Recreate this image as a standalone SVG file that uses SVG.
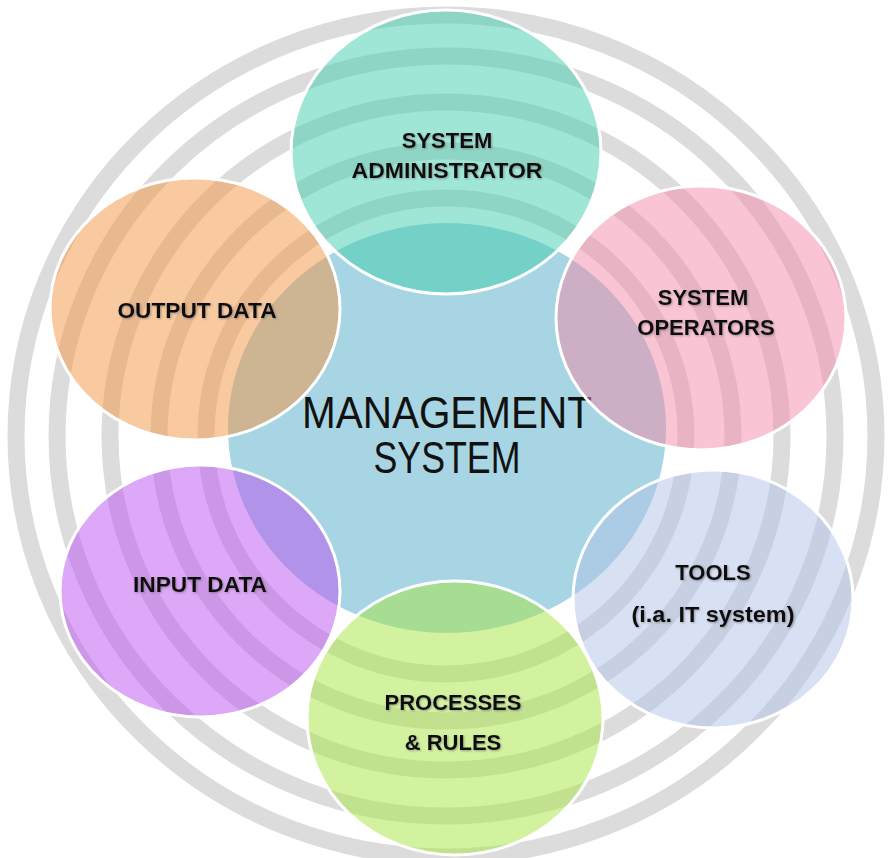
<svg xmlns="http://www.w3.org/2000/svg" width="892" height="858" viewBox="0 0 892 858">
<style>
.ring{fill:none;stroke:#dcdcdc;stroke-width:17}
.bubble{stroke:#ffffff;stroke-width:3;fill-opacity:0.5}
.lbl{font-family:"Liberation Sans",Arial,sans-serif;font-weight:bold;font-size:22px;fill:#111111;text-anchor:middle}
.title{font-family:"Liberation Sans",Arial,sans-serif;font-size:44px;fill:#111111;text-anchor:middle}
</style>
<defs>
<filter id="sh" x="-10%" y="-30%" width="120%" height="160%">
<feDropShadow dx="1" dy="1" stdDeviation="0.8" flood-color="#555" flood-opacity="0.5"/>
</filter>
<clipPath id="inCircles">
<ellipse cx="446" cy="152" rx="155" ry="142"/>
<ellipse cx="195" cy="309" rx="145" ry="131"/>
<ellipse cx="701" cy="318" rx="145" ry="132"/>
<ellipse cx="200" cy="591" rx="140" ry="126"/>
<ellipse cx="713" cy="599" rx="140" ry="129"/>
<ellipse cx="455" cy="718" rx="148" ry="137"/>
</clipPath>
</defs>
<rect width="892" height="858" fill="#ffffff"/>
<g id="rings">
<ellipse class="ring" cx="446" cy="436" rx="430" ry="421"/>
<ellipse class="ring" cx="446" cy="436" rx="389" ry="380"/>
<ellipse class="ring" cx="446" cy="436" rx="336" ry="334" stroke-width="19"/>
<g clip-path="url(#inCircles)">
<ellipse class="ring" cx="446" cy="436" rx="287" ry="285" stroke-width="15"/>
<ellipse class="ring" cx="446" cy="436" rx="240" ry="238" stroke-width="19"/>
</g>
</g>
<g id="connectors"/>
<g id="node-center">
<ellipse cx="447" cy="428" rx="219" ry="205" fill="#a7d5e3"/>
<text class="title" x="447" y="428" textLength="290" lengthAdjust="spacingAndGlyphs">MANAGEMENT</text>
<text class="title" x="447" y="473" textLength="147" lengthAdjust="spacingAndGlyphs">SYSTEM</text>
</g>
<g id="node-admin">
<ellipse class="bubble" cx="446" cy="152" rx="155" ry="142" fill="#41cdad"/>
<g filter="url(#sh)">
<text class="lbl" x="447" y="148">SYSTEM</text>
<text class="lbl" x="447" y="178" textLength="191" lengthAdjust="spacingAndGlyphs">ADMINISTRATOR</text>
</g>
</g>
<g id="node-output">
<ellipse class="bubble" cx="195" cy="309" rx="145" ry="131" fill="#f39341"/>
<text class="lbl" x="197" y="318" textLength="159" lengthAdjust="spacingAndGlyphs" filter="url(#sh)">OUTPUT DATA</text>
</g>
<g id="node-operators">
<ellipse class="bubble" cx="701" cy="318" rx="145" ry="132" fill="#f389a7"/>
<g filter="url(#sh)">
<text class="lbl" x="703" y="305">SYSTEM</text>
<text class="lbl" x="706" y="335">OPERATORS</text>
</g>
</g>
<g id="node-input">
<ellipse class="bubble" cx="200" cy="591" rx="140" ry="126" fill="#bb51ef"/>
<text class="lbl" x="200" y="592" textLength="134" lengthAdjust="spacingAndGlyphs" filter="url(#sh)">INPUT DATA</text>
</g>
<g id="node-tools">
<ellipse class="bubble" cx="713" cy="599" rx="140" ry="129" fill="#b1c1e7"/>
<g filter="url(#sh)">
<text class="lbl" x="713" y="580">TOOLS</text>
<text class="lbl" x="713" y="622" textLength="163" lengthAdjust="spacingAndGlyphs">(i.a. IT system)</text>
</g>
</g>
<g id="node-processes">
<ellipse class="bubble" cx="455" cy="718" rx="148" ry="137" fill="#a7e541"/>
<g filter="url(#sh)">
<text class="lbl" x="453" y="710">PROCESSES</text>
<text class="lbl" x="453" y="750">&amp; RULES</text>
</g>
</g>
</svg>
